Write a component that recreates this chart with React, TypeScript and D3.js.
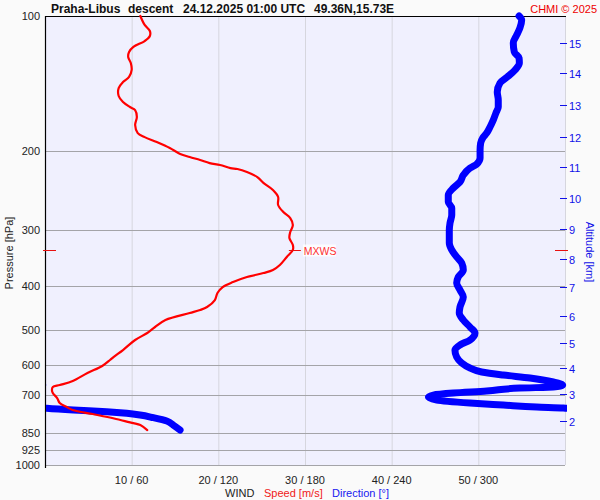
import { useEffect, useRef } from 'react'
import * as d3 from 'd3'

// wind speed profile [m/s] vs pressure [hPa]
const speedPressure = [100, 104.7, 108, 110.8, 113.7, 117.2, 120.3, 123.4, 127.3, 131.9, 136.7, 140.3, 144.7, 150.7, 155.4, 159.5, 162, 167.9, 174.9, 182.3, 186.1, 190.9, 196.8, 202.9, 206.1, 209.3, 212.6, 214.7, 218.1, 219.2, 222.6, 228.4, 235.4, 244.1, 253, 263.6, 273.3, 281.8, 292.1, 302.7, 312.2, 323.6, 331.9, 344.1, 358.5, 367.9, 373.6, 381.4, 391.3, 401.5, 414, 429.1, 444.8, 451.7, 458.7, 475.4, 492.8, 508.2, 526.8, 554.5, 574.8, 583.7, 601.9, 623.9, 650.1, 663.6, 670.5, 680.8, 691.5, 709.4, 727.8, 742.9, 754.4, 770, 781.9, 794.1, 806.5, 814.8, 836]
const speedValues = [11, 11.5, 12.1, 12.1, 11.5, 10.2, 9.7, 9.6, 9.9, 10, 9.7, 9, 8.5, 8.5, 9, 9.8, 10.4, 10.6, 10.4, 10.7, 11.5, 12.9, 14.4, 15.6, 16.7, 17.9, 19, 20.2, 21.4, 22.2, 23.3, 24.5, 25.2, 26.3, 26.9, 26.9, 27.5, 28.3, 28.6, 28.3, 28.2, 28.6, 28.6, 27.9, 27.1, 26.3, 25.2, 23.3, 21.7, 20.5, 19.9, 19.6, 18.7, 17.9, 16.7, 13.9, 12.7, 11.8, 10.4, 9, 7.9, 7.5, 6.6, 4.9, 3.2, 1.7, 0.9, 0.8, 0.9, 1.4, 1.7, 2.5, 3.2, 5.5, 7.2, 8.7, 10.2, 11, 11.8]

// wind direction profile [deg] vs pressure [hPa]
const dirPressure = [100, 102.1, 106.3, 110.2, 114.8, 120.3, 124, 127.3, 131.9, 136.7, 141, 147.6, 153.8, 159.5, 164.4, 170.4, 176.7, 182.3, 187, 191.9, 198.9, 207.2, 213.7, 218.1, 226.1, 234.3, 241.6, 250.4, 259.5, 267.7, 277.5, 289.1, 299.6, 320.3, 331.9, 344.1, 354.9, 367.9, 381.4, 393.3, 407.6, 422.6, 444.8, 458.7, 475.4, 492.8, 508.2, 526.8, 540.5, 554.5, 574.8, 592.7, 608.2, 620.8, 630.4, 640.1, 653.4, 663.6, 670.5, 674, 684.4, 691.5, 698.6, 705.9, 716.9, 727.8, 735.4, 742.9, 746.6, 747.7, 754.4, 761, 767.3, 773.9, 784.6, 798, 814.8, 836]
const dirValues = [328.2, 330, 328.8, 326.6, 324.2, 324.9, 328.2, 328.4, 325.4, 320.1, 315, 313.1, 313.8, 313.8, 312.2, 310.4, 308.1, 305.8, 303, 301.6, 301.2, 301.2, 298.9, 294.2, 289.6, 287.3, 282.7, 279.2, 279.2, 281.6, 281.6, 280.4, 279.9, 279.9, 281.6, 285, 288.5, 289.6, 286.1, 285, 287.3, 289.6, 287.3, 286.8, 289.6, 294.2, 297.7, 294.2, 287.3, 283.8, 285, 288.5, 294.2, 302.3, 317.3, 335.8, 351.9, 358.4, 351.9, 328.8, 305.8, 282.7, 268.8, 265.4, 271.2, 294.2, 317.3, 340.4, 358.8, 1.2, 19.6, 42.7, 56.6, 65.8, 75, 84.3, 88.8, 93.5]

const pressureTicks = [100, 200, 300, 400, 500, 600, 700, 850, 925, 1000]
const gridPressures = [200, 300, 400, 500, 600, 700, 850, 925, 1000]
const speedTicks = [10, 20, 30, 40, 50]
const windTickLabels = ['10 / 60', '20 / 120', '30 / 180', '40 / 240', '50 / 300']
const speedGrid = [10, 20, 30, 40, 50, 60]

// altitude [km] marks and the pressure where they sit
const altitudeKm = [2, 3, 4, 5, 6, 7, 8, 9, 10, 11, 12, 13, 14, 15]
const altitudePressure = [796.9, 695.7, 607.4, 535.6, 465.6, 402, 347.7, 298.2, 254.7, 216.6, 185.7, 157.8, 133.8, 114.7]

const mxwsPressure = 331.9
const mxwsSpeed = 28.6

export default function App() {
  const svgRef = useRef<SVGSVGElement>(null)

  useEffect(() => {
    if (!svgRef.current) return
    document.body.style.margin = '0'

    const svg = d3.select(svgRef.current)
    svg.selectAll('*').remove()

    const left = 45, right = 565, top = 16, bottom = 465
    const font = 'Liberation Sans, Arial, sans-serif'

    const y = d3.scaleLog().domain([100, 1000]).range([top, bottom])
    const xs = d3.scaleLinear().domain([0, 60]).range([left, right])
    const xd = d3.scaleLinear().domain([0, 360]).range([left, right])

    svg.append('rect').attr('width', 600).attr('height', 500).attr('fill', '#fafafa')
    svg.append('rect')
      .attr('x', left).attr('y', top)
      .attr('width', right - left).attr('height', bottom - top)
      .attr('fill', '#f0f0fe')

    // vertical grid
    svg.append('g').selectAll('line')
      .data(speedGrid)
      .enter().append('line')
      .attr('x1', d => xs(d) + 0.5).attr('x2', d => xs(d) + 0.5)
      .attr('y1', top).attr('y2', bottom)
      .attr('stroke', '#d6d6de')
      .attr('stroke-width', 1)

    // horizontal grid
    svg.append('g').selectAll('line')
      .data(gridPressures)
      .enter().append('line')
      .attr('x1', left).attr('x2', right)
      .attr('y1', d => Math.round(y(d)) + 0.5).attr('y2', d => Math.round(y(d)) + 0.5)
      .attr('stroke', '#a4a4a8')
      .attr('stroke-width', 1)

    // frame
    svg.append('line')
      .attr('x1', left + 0.5).attr('x2', left + 0.5)
      .attr('y1', top).attr('y2', bottom + 3)
      .attr('stroke', '#000').attr('stroke-width', 1.2)
    svg.append('line')
      .attr('x1', left).attr('x2', right + 1)
      .attr('y1', top + 0.5).attr('y2', top + 0.5)
      .attr('stroke', '#000').attr('stroke-width', 1.2)

    // pressure labels
    svg.append('g').selectAll('text')
      .data(pressureTicks)
      .enter().append('text')
      .attr('x', 40)
      .attr('y', d => y(d) + 4)
      .attr('text-anchor', 'end')
      .style('font-family', font)
      .style('font-size', '11px')
      .style('fill', '#222')
      .text(d => d)

    svg.append('text')
      .attr('transform', 'translate(13,253) rotate(-90)')
      .attr('text-anchor', 'middle')
      .style('font-family', font)
      .style('font-size', '11px')
      .style('fill', '#222')
      .text('Pressure [hPa]')

    // wind labels
    svg.append('g').selectAll('text')
      .data(speedTicks)
      .enter().append('text')
      .attr('x', d => xs(d))
      .attr('y', 484)
      .attr('text-anchor', 'middle')
      .style('font-family', font)
      .style('font-size', '11px')
      .style('fill', '#222')
      .text((d, i) => windTickLabels[i])

    const caption = svg.append('text')
      .attr('y', 497)
      .style('font-family', font)
      .style('font-size', '11px')
    caption.append('tspan').attr('x', 225).style('fill', '#222').text('WIND')
    caption.append('tspan').attr('x', 264).style('fill', '#f01818').text('Speed [m/s]')
    caption.append('tspan').attr('x', 332).style('fill', '#1818f0').text('Direction [°]')

    // altitude axis
    const alt = svg.append('g')
    altitudeKm.forEach((km, i) => {
      const ay = Math.round(y(altitudePressure[i])) + 0.5
      alt.append('line')
        .attr('x1', 560).attr('x2', 567)
        .attr('y1', ay).attr('y2', ay)
        .attr('stroke', '#1010e8').attr('stroke-width', 1)
      alt.append('text')
        .attr('x', 569).attr('y', ay + 4)
        .style('font-family', font)
        .style('font-size', '11px')
        .style('fill', '#1010e8')
        .text(km)
    })
    svg.append('text')
      .attr('transform', 'translate(586,252) rotate(90)')
      .attr('text-anchor', 'middle')
      .style('font-family', font)
      .style('font-size', '11px')
      .style('fill', '#1010e8')
      .text('Altitude [km]')

    // direction line, unwrapped across north and drawn twice in a clip
    const unwrapped: number[] = []
    dirValues.forEach((d, i) => {
      if (i === 0) { unwrapped.push(d); return }
      let v = d
      const prev = unwrapped[i - 1]
      while (v - prev > 180) v -= 360
      while (v - prev < -180) v += 360
      unwrapped.push(v)
    })
    const dirPoints = unwrapped.map((d, i) => ({ d, p: dirPressure[i] }))

    svg.append('clipPath').attr('id', 'dirclip')
      .append('rect').attr('x', left + 1).attr('y', 0).attr('width', right - left + 1).attr('height', bottom + 5)

    const dirLine = d3.line<{ d: number; p: number }>()
      .x(e => xd(e.d))
      .y(e => y(e.p))
      .curve(d3.curveMonotoneY)

    const dirG = svg.append('g').attr('clip-path', 'url(#dirclip)')
    ;[0, -360].forEach(shift => {
      dirG.append('path')
        .datum(dirPoints.map(e => ({ d: e.d + shift, p: e.p })))
        .attr('d', dirLine)
        .attr('fill', 'none')
        .attr('stroke', '#0000ff')
        .attr('stroke-width', 7)
        .attr('stroke-linecap', 'round')
        .attr('stroke-linejoin', 'round')
    })

    // speed line
    const speedLine = d3.line<number>()
      .x(s => xs(s))
      .y((s, i) => y(speedPressure[i]))
      .curve(d3.curveCatmullRom)

    svg.append('path')
      .datum(speedValues)
      .attr('d', speedLine)
      .attr('fill', 'none')
      .attr('stroke', '#ff0000')
      .attr('stroke-width', 2.2)
      .attr('stroke-linecap', 'round')
      .attr('stroke-linejoin', 'round')

    // max wind marker
    const my = Math.round(y(mxwsPressure)) + 0.5
    const mx = xs(mxwsSpeed)
    svg.append('line').attr('x1', 43).attr('x2', 56).attr('y1', my).attr('y2', my)
      .attr('stroke', '#e81010').attr('stroke-width', 1)
    svg.append('line').attr('x1', 555).attr('x2', 568).attr('y1', my).attr('y2', my)
      .attr('stroke', '#e81010').attr('stroke-width', 1)
    svg.append('line').attr('x1', mx - 4).attr('x2', mx + 8).attr('y1', my).attr('y2', my)
      .attr('stroke', '#e81010').attr('stroke-width', 1)
    svg.append('rect')
      .attr('x', mx + 10).attr('y', my - 6)
      .attr('width', 33).attr('height', 12)
      .attr('fill', '#ffffff').attr('opacity', 0.8)
    svg.append('text')
      .attr('x', mx + 11).attr('y', my + 4)
      .style('font-family', font)
      .style('font-size', '10.5px')
      .style('fill', '#ff3030')
      .text('MXWS')

    // title
    const title = svg.append('text')
      .attr('y', 13)
      .style('font-family', font)
      .style('font-size', '12px')
      .style('font-weight', 'bold')
      .style('fill', '#111')
    title.append('tspan').attr('x', 51).text('Praha-Libus')
    title.append('tspan').attr('x', 128).text('descent')
    title.append('tspan').attr('x', 183).text('24.12.2025 01:00 UTC')
    title.append('tspan').attr('x', 314).text('49.36N,15.73E')

    svg.append('text')
      .attr('x', 597).attr('y', 13)
      .attr('text-anchor', 'end')
      .style('font-family', font)
      .style('font-size', '11px')
      .style('fill', '#ee0000')
      .text('CHMI © 2025')
  }, [])

  return <svg ref={svgRef} width={600} height={500} style={{ display: 'block' }} />
}
